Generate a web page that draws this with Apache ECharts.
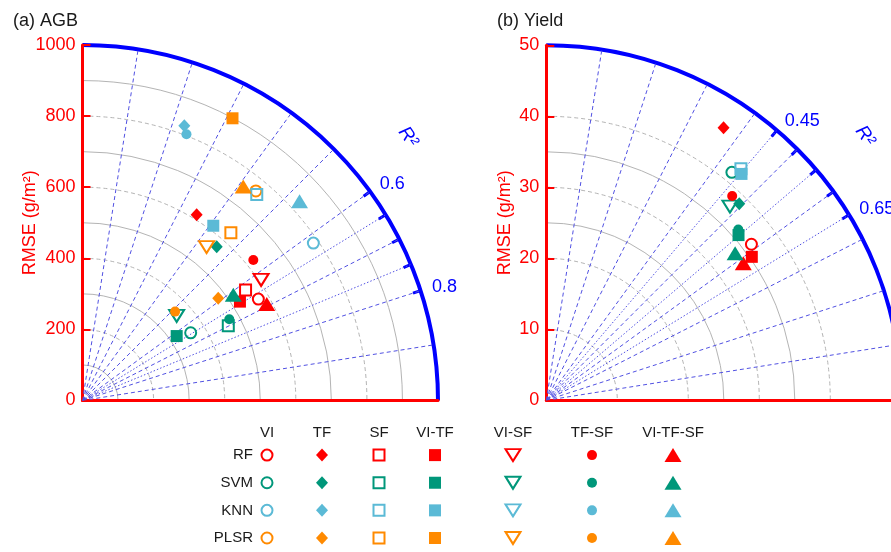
<!DOCTYPE html>
<html>
<head>
<meta charset="utf-8">
<script src="https://cdn.jsdelivr.net/npm/echarts@6/dist/echarts.min.js"></script>
<style>
html, body { margin: 0; padding: 0; background: #fff; }
#chart { width: 891px; height: 552px; }
</style>
</head>
<body>
<div id="chart"></div>
<script>
// ---- data ---------------------------------------------------------------
const MODELS = ['RF', 'SVM', 'KNN', 'PLSR'];
const FEATURE_SETS = ['VI', 'TF', 'SF', 'VI-TF', 'VI-SF', 'TF-SF', 'VI-TF-SF'];

// AGB: [RMSE (g/m²), R²] for each feature set (order of FEATURE_SETS); null = not plotted
const AGB_RF   = [[571, 0.667], [613, 0.351], [554, 0.621], [523, 0.643], [606, 0.622], [622, 0.562], [585, 0.693]];
const AGB_SVM  = [[359, 0.644], [574, 0.457], [461, 0.698], [321, 0.618], [356, 0.534], [472, 0.678], [518, 0.611]];
const AGB_KNN  = [[786, 0.619], [824, 0.226], [759, 0.447], [614, 0.409], null,         [804, 0.237], [829, 0.527]];
const AGB_PLSR = [[765, 0.440], [478, 0.589], [630, 0.461], [899, 0.311], [555, 0.433], [361, 0.513], [753, 0.410]];

// Yield: [RMSE (g/m²), R²]
const YIELD_RF   = [[36.3, 0.586], [45.8, 0.367], null,          [35.3, 0.612], null,          [38.9, 0.470], [33.8, 0.613]];
const YIELD_SVM  = [[41.4, 0.435], [38.8, 0.494], null,          [35.7, 0.548], [37.6, 0.483], [36.2, 0.537], [33.7, 0.579]];
const YIELD_KNN  = [null,          null,          [42.6, 0.445], [42.1, 0.453], null,          null,          null];
const YIELD_PLSR = [null,          null,          null,          null,          null,          null,          null];

// RMSE axis ticks
const AGB_RMSE_TICKS   = [0, 200, 400, 600, 800, 1000];
const YIELD_RMSE_TICKS = [0, 10, 20, 30, 40, 50];
// RMSE reference arcs
const AGB_ARCS_SOLID    = [100, 300, 500, 700, 900];
const AGB_ARCS_DASHED   = [200, 400, 600, 800];
const YIELD_ARCS_SOLID  = [25, 35];
const YIELD_ARCS_DASHED = [10, 20, 30, 40];
// R² rays, ticks and tick labels on the outer arc
const AGB_R2_RAYS     = [0.1, 0.2, 0.3, 0.4, 0.5, 0.6, 0.65, 0.7, 0.75, 0.8, 0.9];
const AGB_R2_TICKS    = [0.6, 0.65, 0.7, 0.75, 0.8];
const AGB_R2_LABELS   = [0.6, 0.8];
const YIELD_R2_RAYS   = [0.1, 0.2, 0.3, 0.4, 0.45, 0.5, 0.55, 0.6, 0.65, 0.7, 0.8, 0.9];
const YIELD_R2_TICKS  = [0.45, 0.5, 0.55, 0.6, 0.65];
const YIELD_R2_LABELS = [0.45, 0.65];

// ---- styles & layout ----------------------------------------------------
const FONT = '"Liberation Sans", Arial, Helvetica, sans-serif';
const RED = '#ff0000';
const BLUE = '#0000ff';
const RAY_BLUE = '#5151e2';
const ARC_GREY = '#b4b4b4';
const MODEL_COLORS = { RF: '#ff0000', SVM: '#00977a', KNN: '#5bbad6', PLSR: '#ff8a00' };
const MARKS = {
  'VI':       { symbol: 'circle',   size: 11,       hollow: true },
  'TF':       { symbol: 'diamond',  size: [12, 13] },
  'SF':       { symbol: 'rect',     size: 11,       hollow: true },
  'VI-TF':    { symbol: 'rect',     size: 12 },
  'VI-SF':    { symbol: 'triangle', size: [15, 12], hollow: true, rotate: 180 },
  'TF-SF':    { symbol: 'circle',   size: 10 },
  'VI-TF-SF': { symbol: 'triangle', size: [17, 14] }
};
// legend column offsets (px) from the first column
const LEGEND_COL_X = [0, 55, 112, 168, 246, 325, 406];
// gap (px) between the outer arc and the R² tick labels
const R2_LABEL_GAP = 12;

const PANELS = [
  { title: '(a) AGB', cx: 82.5, cy: 400.5, R: 355.5,
    ticks: AGB_RMSE_TICKS, solid: AGB_ARCS_SOLID, dashed: AGB_ARCS_DASHED,
    rays: AGB_R2_RAYS, r2Ticks: AGB_R2_TICKS, r2Labels: AGB_R2_LABELS,
    data: { RF: AGB_RF, SVM: AGB_SVM, KNN: AGB_KNN, PLSR: AGB_PLSR },
    titleX: 8, r2x: 408, r2y: 137, nameGap: 43 },
  { title: '(b) Yield', cx: 546.3, cy: 400.3, R: 355,
    ticks: YIELD_RMSE_TICKS, solid: YIELD_ARCS_SOLID, dashed: YIELD_ARCS_DASHED,
    rays: YIELD_R2_RAYS, r2Ticks: YIELD_R2_TICKS, r2Labels: YIELD_R2_LABELS,
    data: { RF: YIELD_RF, SVM: YIELD_SVM, KNN: YIELD_KNN, PLSR: YIELD_PLSR },
    titleX: 492, r2x: 865, r2y: 136, nameGap: 32 }
];

function markStyle(mark, color) {
  return mark.hollow
    ? { color: 'rgba(255,255,255,0)', borderColor: color, borderWidth: 2, opacity: 1 }
    : { color: color, borderWidth: 0, opacity: 1 };
}

const polar = [], radiusAxis = [], angleAxis = [], series = [];
const grid = [], xAxis = [], yAxis = [], title = [], graphic = [];

PANELS.forEach((p, pi) => {
  const max = p.ticks[p.ticks.length - 1];
  const base = pi * 2;
  // two stacked polar systems: dashed arcs underneath, solid arcs + outer arc on top
  [0, 1].forEach(k => {
    const top = k === 1;
    polar.push({ center: [p.cx, p.cy], radius: p.R });
    radiusAxis.push({
      polarIndex: base + k, type: 'value', min: 0, max: max,
      axisLine: { show: false }, axisLabel: { show: false },
      axisTick: { show: false, customValues: top ? p.solid : p.dashed },
      splitLine: { show: true, lineStyle: { color: ARC_GREY, width: 1, type: top ? 'solid' : [4, 3] } }
    });
    angleAxis.push({
      polarIndex: base + k, type: 'value', min: 0, max: 1,
      startAngle: 90, endAngle: 0, clockwise: true,
      axisLine: { show: top, lineStyle: { color: BLUE, width: 4 } },
      axisTick: { show: top, customValues: p.r2Ticks, inside: true, length: 8,
                  lineStyle: { color: BLUE, width: 3 } },
      axisLabel: { show: false },
      splitLine: { show: false }
    });
  });

  // R² rays from the origin
  p.rays.forEach(g => {
    const tenth = Math.abs(g * 10 - Math.round(g * 10)) < 1e-6;
    series.push({
      type: 'line', coordinateSystem: 'polar', polarIndex: base + 1,
      data: [[0, g], [max, g]], symbol: 'none', silent: true, z: 1,
      lineStyle: { color: RAY_BLUE, width: 1, type: tenth ? [4, 3] : [1.5, 2] }
    });
  });

  // R² tick labels just outside the outer arc
  series.push({
    type: 'scatter', coordinateSystem: 'polar', polarIndex: base + 1, silent: true,
    symbolSize: 0, z: 6, clip: false,
    itemStyle: { opacity: 1 },
    data: p.r2Labels.map(v => ({ value: [max * (1 + R2_LABEL_GAP / p.R), v] })),
    label: { show: true, position: 'right', distance: 0, color: BLUE, fontSize: 18,
             fontFamily: FONT, formatter: d => String(d.value[1]) }
  });

  // model points, one series per feature set
  FEATURE_SETS.forEach((fs, fi) => {
    const mark = MARKS[fs];
    const data = [];
    MODELS.forEach(m => {
      const v = p.data[m][fi];
      if (v) data.push({ name: m + ' ' + fs, value: v, itemStyle: markStyle(mark, MODEL_COLORS[m]) });
    });
    series.push({
      type: 'scatter', coordinateSystem: 'polar', polarIndex: base + 1,
      name: fs, data: data, symbol: mark.symbol, symbolSize: mark.size,
      symbolRotate: mark.rotate || 0, z: 5
    });
  });

  // red RMSE axes
  grid.push({ left: p.cx, top: p.cy - p.R, width: p.R, height: p.R });
  xAxis.push({
    gridIndex: pi, type: 'value', min: 0, max: max,
    axisLine: { show: true, lineStyle: { color: RED, width: 3 } },
    axisTick: { show: false }, axisLabel: { show: false }, splitLine: { show: false }
  });
  yAxis.push({
    gridIndex: pi, type: 'value', min: 0, max: max, interval: p.ticks[1] - p.ticks[0],
    axisLine: { show: true, lineStyle: { color: RED, width: 3 } },
    axisTick: { show: true, inside: true, length: 8, lineStyle: { color: RED, width: 2 } },
    axisLabel: { color: RED, fontSize: 18, fontFamily: FONT, margin: 7, formatter: v => String(v) },
    splitLine: { show: false },
    name: 'RMSE (g/m²)', nameLocation: 'middle', nameGap: p.nameGap, nameMoveOverlap: false,
    nameTextStyle: { color: RED, fontSize: 18, fontFamily: FONT }
  });

  title.push({ text: p.title, left: p.titleX, top: 7,
    textStyle: { fontSize: 18, fontWeight: 'normal', color: '#1a1a1a', fontFamily: FONT } });

  graphic.push({
    type: 'text', x: p.r2x, y: p.r2y, rotation: -55 * Math.PI / 180,
    style: { text: 'R²', fill: BLUE, fontSize: 19, fontStyle: 'italic', fontFamily: FONT,
             align: 'center', verticalAlign: 'middle' }
  });
});

// ---- legend matrix ------------------------------------------------------
const LG = 2;
grid.push({ left: 247, top: 433, width: 426, height: 105 });
xAxis.push({ gridIndex: LG, type: 'value', min: -20, max: 406, show: false });
yAxis.push({ gridIndex: LG, type: 'value', min: -0.8, max: 3, inverse: true, show: false });

FEATURE_SETS.forEach((fs, fi) => {
  const mark = MARKS[fs];
  series.push({
    type: 'scatter', xAxisIndex: LG, yAxisIndex: LG, silent: true,
    symbol: mark.symbol, symbolSize: mark.size, symbolRotate: mark.rotate || 0,
    data: MODELS.map((m, mi) => ({ value: [LEGEND_COL_X[fi], mi], itemStyle: markStyle(mark, MODEL_COLORS[m]) }))
  });
});
const legendText = { fontSize: 15, color: '#1a1a1a', fontFamily: FONT };
series.push({
  type: 'scatter', xAxisIndex: LG, yAxisIndex: LG, silent: true, symbolSize: 0, clip: false,
  itemStyle: { opacity: 1 },
  data: FEATURE_SETS.map((fs, fi) => ({ name: fs, value: [LEGEND_COL_X[fi], -0.8] })),
  label: Object.assign({ show: true, position: 'inside', formatter: '{b}' }, legendText)
});
series.push({
  type: 'scatter', xAxisIndex: LG, yAxisIndex: LG, silent: true, symbolSize: 0, clip: false,
  itemStyle: { opacity: 1 },
  data: MODELS.map((m, mi) => ({ name: m, value: [-14, mi] })),
  label: Object.assign({ show: true, position: 'left', distance: 0, formatter: '{b}' }, legendText)
});

const chart = echarts.init(document.getElementById('chart'));
chart.setOption({
  animation: false,
  backgroundColor: '#fff',
  textStyle: { fontFamily: FONT },
  title, polar, radiusAxis, angleAxis, grid, xAxis, yAxis, series, graphic
});
</script>
</body>
</html>
